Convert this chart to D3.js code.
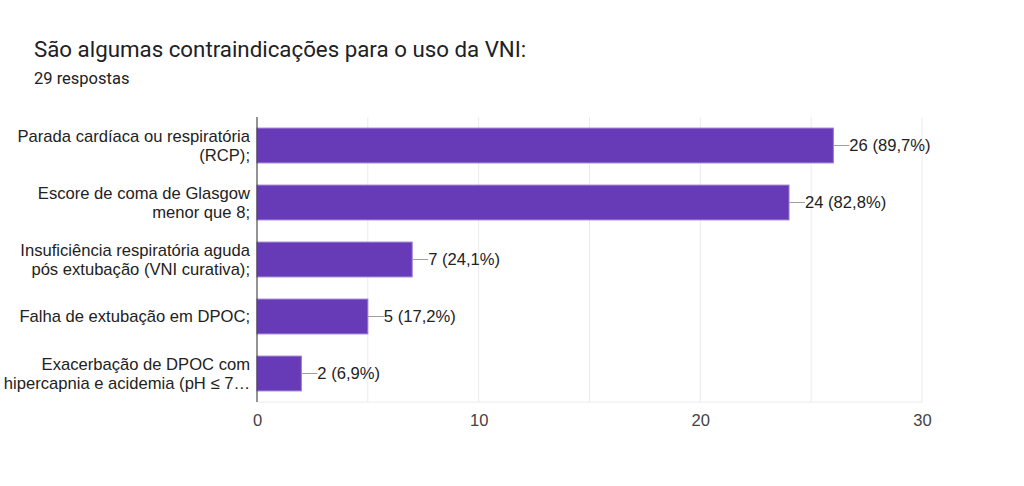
<!DOCTYPE html>
<html>
<head>
<meta charset="utf-8">
<script src="https://cdn.jsdelivr.net/npm/d3@7"></script>
<style>
  body { margin: 0; background: #fff; }
  svg { font-family: "Liberation Sans", Arial, sans-serif; }
</style>
</head>
<body>
<svg id="chart" width="1024" height="486"></svg>
<script>
// chart data
var title = "São algumas contraindicações para o uso da VNI:";
var subtitle = "29 respostas";
var categories = [
    ["Parada cardíaca ou respiratória", "(RCP);"],
    ["Escore de coma de Glasgow", "menor que 8;"],
    ["Insuficiência respiratória aguda", "pós extubação (VNI curativa);"],
    ["Falha de extubação em DPOC;"],
    ["Exacerbação de DPOC com", "hipercapnia e acidemia (pH ≤ 7…"]
];
var values = [26, 24, 7, 5, 2];
var valueLabels = ["26 (89,7%)", "24 (82,8%)", "7 (24,1%)", "5 (17,2%)", "2 (6,9%)"];
var tickValues = [0, 10, 20, 30];
var gridValues = [0, 5, 10, 15, 20, 25, 30];

var fs = 16.6;
var margin = {left: 257, right: 102, top: 117, bottom: 84};
var svg = d3.select("#chart");
var W = 1024, H = 486;
var innerW = W - margin.left - margin.right;
var innerH = H - margin.top - margin.bottom;

// header (Roboto)
svg.append("text")
    .attr("x", 34).attr("y", 57)
    .attr("font-family", "Roboto, sans-serif")
    .attr("font-size", 22.3).attr("fill", "#202124")
    .text(title);
svg.append("text")
    .attr("x", 34).attr("y", 84)
    .attr("font-family", "Roboto, sans-serif")
    .attr("font-size", 16.5).attr("fill", "#202124")
    .text(subtitle);

var x = d3.scaleLinear().domain([0, 30]).range([0, innerW]);
var y = d3.scaleBand().domain(d3.range(values.length)).range([0, innerH]).paddingInner(0.39).paddingOuter(0.195);

var g = svg.append("g").attr("transform", "translate(" + margin.left + "," + margin.top + ")");

// grid lines
g.selectAll(".grid").data(gridValues).enter().append("line")
    .attr("x1", d => x(d)).attr("x2", d => x(d))
    .attr("y1", 0).attr("y2", innerH)
    .attr("stroke", "#ebebeb").attr("stroke-width", 1);
g.append("line")
    .attr("x1", 0).attr("x2", innerW)
    .attr("y1", innerH).attr("y2", innerH)
    .attr("stroke", "#ebebeb");

// bars
g.selectAll(".bar").data(values).enter().append("rect")
    .attr("x", 0)
    .attr("y", (d, i) => y(i))
    .attr("width", d => x(d))
    .attr("height", y.bandwidth())
    .attr("fill", "#673ab7")
    .attr("stroke", "#9575cd").attr("stroke-width", 1);

// leader lines and labels
g.selectAll(".lead").data(values).enter().append("line")
    .attr("x1", d => x(d)).attr("x2", d => x(d) + 16)
    .attr("y1", (d, i) => y(i) + y.bandwidth() / 2)
    .attr("y2", (d, i) => y(i) + y.bandwidth() / 2)
    .attr("stroke", "#9e9e9e").attr("stroke-width", 1);
g.selectAll(".vlab").data(values).enter().append("text")
    .attr("x", d => x(d) + 16)
    .attr("y", (d, i) => y(i) + y.bandwidth() / 2)
    .attr("dy", "0.36em")
    .attr("font-size", fs).attr("fill", "#222")
    .text((d, i) => valueLabels[i]);

// category labels
categories.forEach(function (lines, i) {
    var cy = y(i) + y.bandwidth() / 2;
    var lh = 19.5;
    var t = g.append("text")
        .attr("text-anchor", "end")
        .attr("font-size", fs).attr("fill", "#222");
    lines.forEach(function (ln, j) {
        t.append("tspan")
            .attr("x", -7)
            .attr("y", cy + (j - (lines.length - 1) / 2) * lh)
            .attr("dy", "0.36em")
            .text(ln);
    });
});

// vertical axis line
g.append("line")
    .attr("x1", 0).attr("x2", 0)
    .attr("y1", 0).attr("y2", innerH)
    .attr("stroke", "#333").attr("stroke-width", 1);

// x axis
var xAxis = g.append("g")
    .attr("transform", "translate(0," + innerH + ")")
    .call(d3.axisBottom(x).tickValues(tickValues).tickSize(0).tickPadding(12));
xAxis.select(".domain").remove();
xAxis.selectAll("text")
    .attr("font-size", fs).attr("fill", "#444")
    .attr("font-family", "'Liberation Sans', Arial, sans-serif");
</script>
</body>
</html>
